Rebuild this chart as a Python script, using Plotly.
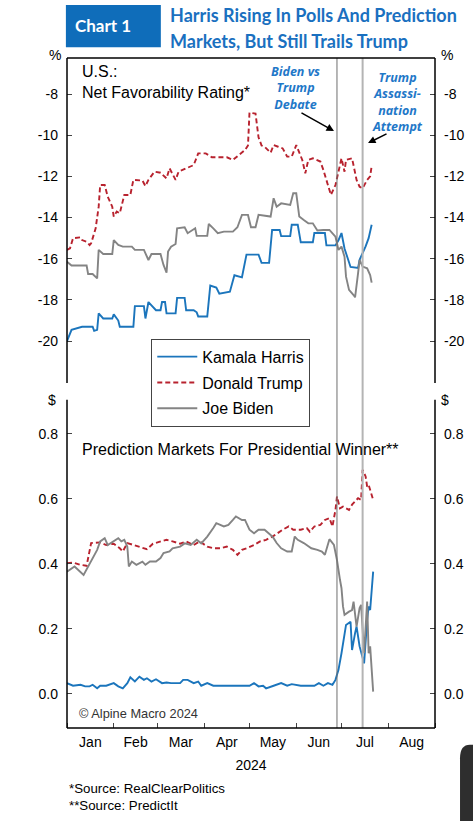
import plotly.graph_objects as go

# ---- data ----
series_names = ["Kamala Harris", "Donald Trump", "Joe Biden"]

# Net favorability rating, % (RealClearPolitics)
harris_fav_dates = [
    "2024-01-01", "2024-01-04", "2024-01-11", "2024-01-18", "2024-01-19", "2024-01-21",
    "2024-01-22", "2024-01-25", "2024-01-31", "2024-02-01", "2024-02-04", "2024-02-05",
    "2024-02-14", "2024-02-15", "2024-02-21", "2024-02-22", "2024-02-24", "2024-02-29",
    "2024-03-03", "2024-03-04", "2024-03-06", "2024-03-07", "2024-03-13", "2024-03-14",
    "2024-03-19", "2024-03-20", "2024-03-25", "2024-03-27", "2024-03-28", "2024-04-03",
    "2024-04-05", "2024-04-09", "2024-04-11", "2024-04-18", "2024-04-21", "2024-04-26",
    "2024-04-29", "2024-05-07", "2024-05-09", "2024-05-14", "2024-05-16", "2024-05-21",
    "2024-05-22", "2024-05-28", "2024-05-29", "2024-06-02", "2024-06-04", "2024-06-12",
    "2024-06-13", "2024-06-20", "2024-06-21", "2024-06-27", "2024-06-29", "2024-07-01",
    "2024-07-03", "2024-07-07", "2024-07-12", "2024-07-13", "2024-07-17", "2024-07-19",
    "2024-07-21",
]
harris_fav = [
    -20.0, -19.45, -19.3, -19.3, -19.5, -19.45,
    -18.65, -18.9, -18.9, -18.7, -19.0, -19.3,
    -19.3, -18.3, -18.3, -18.9, -18.1, -18.5,
    -18.5, -18.1, -18.1, -18.65, -18.65, -17.9,
    -17.9, -18.5, -18.5, -18.6, -18.8, -18.8,
    -17.3, -17.4, -17.7, -17.6, -16.8, -16.9,
    -15.8, -15.8, -16.2, -16.2, -14.6, -14.6,
    -14.9, -14.9, -14.35, -14.35, -15.2, -15.2,
    -14.75, -14.75, -15.35, -15.35, -15.1, -14.75,
    -15.5, -16.4, -16.45, -16.05, -15.4, -15.0,
    -14.35,
]

trump_fav_dates = [
    "2024-01-01", "2024-01-03", "2024-01-05", "2024-01-10", "2024-01-11", "2024-01-14",
    "2024-01-16", "2024-01-17", "2024-01-20", "2024-01-22", "2024-01-23", "2024-01-26",
    "2024-01-28", "2024-01-31", "2024-02-01", "2024-02-03", "2024-02-05", "2024-02-07",
    "2024-02-08", "2024-02-12", "2024-02-14", "2024-02-20", "2024-02-22", "2024-02-24",
    "2024-02-28", "2024-03-03", "2024-03-07", "2024-03-09", "2024-03-13", "2024-03-15",
    "2024-03-20", "2024-03-25", "2024-03-28", "2024-04-02", "2024-04-06", "2024-04-16",
    "2024-04-20", "2024-04-25", "2024-04-28", "2024-04-30", "2024-05-01", "2024-05-05",
    "2024-05-07", "2024-05-09", "2024-05-11", "2024-05-15", "2024-05-17", "2024-05-20",
    "2024-05-23", "2024-05-26", "2024-05-29", "2024-06-01", "2024-06-05", "2024-06-07",
    "2024-06-09", "2024-06-12", "2024-06-17", "2024-06-19", "2024-06-22", "2024-06-24",
    "2024-06-27", "2024-06-29", "2024-07-01", "2024-07-03", "2024-07-04", "2024-07-08",
    "2024-07-11", "2024-07-13", "2024-07-15", "2024-07-18", "2024-07-20", "2024-07-21",
]
trump_fav = [
    -15.57, -15.49, -15.0, -14.96, -15.09, -15.17,
    -15.33, -15.25, -14.52, -13.47, -12.42, -12.42,
    -12.98, -13.47, -13.95, -13.71, -13.79, -13.15,
    -12.9, -12.9, -12.17, -12.2, -12.47, -12.17,
    -11.77, -11.82, -12.1, -11.61, -12.17, -11.77,
    -11.61, -11.45, -10.88, -10.88, -11.07, -11.07,
    -11.2, -10.88, -10.72, -10.5, -8.9, -8.95,
    -10.1, -10.5, -10.56, -10.85, -10.48, -10.56,
    -10.64, -11.04, -11.04, -10.48, -11.2, -11.85,
    -11.2, -11.12, -11.28, -11.69, -12.5, -12.9,
    -12.42, -11.69, -11.12, -11.77, -11.2, -11.12,
    -12.17, -12.5, -12.58, -12.17, -12.0, -11.5,
]

biden_fav_dates = [
    "2024-01-01", "2024-01-04", "2024-01-14", "2024-01-15", "2024-01-18", "2024-01-21",
    "2024-01-22", "2024-01-25", "2024-01-31", "2024-02-01", "2024-02-04", "2024-02-07",
    "2024-02-13", "2024-02-15", "2024-02-21", "2024-02-24", "2024-02-26", "2024-03-03",
    "2024-03-05", "2024-03-07", "2024-03-08", "2024-03-10", "2024-03-13", "2024-03-14",
    "2024-03-19", "2024-03-21", "2024-03-26", "2024-03-27", "2024-04-03", "2024-04-04",
    "2024-04-07", "2024-04-10", "2024-04-14", "2024-04-20", "2024-04-23", "2024-04-26",
    "2024-04-30", "2024-05-02", "2024-05-05", "2024-05-07", "2024-05-15", "2024-05-17",
    "2024-05-19", "2024-05-22", "2024-05-28", "2024-05-30", "2024-06-01", "2024-06-03",
    "2024-06-06", "2024-06-09", "2024-06-12", "2024-06-15", "2024-06-19", "2024-06-23",
    "2024-06-27", "2024-06-29", "2024-07-01", "2024-07-03", "2024-07-04", "2024-07-06",
    "2024-07-09", "2024-07-10", "2024-07-12", "2024-07-13", "2024-07-15", "2024-07-18",
    "2024-07-20", "2024-07-21",
]
biden_fav = [
    -16.14, -16.33, -16.33, -16.74, -16.74, -16.95,
    -15.57, -15.77, -15.77, -15.09, -15.33, -15.41,
    -15.41, -15.57, -15.57, -16.06, -15.77, -15.77,
    -16.3, -16.67, -15.65, -15.41, -15.28, -14.52,
    -14.47, -14.76, -14.52, -14.89, -14.89, -14.31,
    -14.52, -14.76, -14.68, -14.68, -14.47, -13.87,
    -13.87, -14.47, -14.47, -13.87, -13.95, -13.06,
    -13.47, -13.31, -13.39, -12.82, -12.82, -13.95,
    -14.12, -14.28, -14.28, -14.63, -14.6, -14.6,
    -14.93, -15.57, -15.41, -15.9, -16.87, -17.51,
    -17.76, -17.87, -16.7, -16.06, -16.38, -16.46,
    -16.79, -17.16,
]

# Prediction market prices, $ (PredictIt)
harris_pm_dates = [
    "2024-01-01", "2024-01-05", "2024-01-10", "2024-01-13", "2024-01-16", "2024-01-18",
    "2024-01-21", "2024-01-23", "2024-01-27", "2024-02-01", "2024-02-04", "2024-02-07",
    "2024-02-10", "2024-02-12", "2024-02-15", "2024-02-18", "2024-02-21", "2024-02-23",
    "2024-02-26", "2024-02-29", "2024-03-04", "2024-03-07", "2024-03-10", "2024-03-16",
    "2024-03-18", "2024-03-21", "2024-03-25", "2024-03-28", "2024-03-30", "2024-04-03",
    "2024-04-07", "2024-05-01", "2024-05-04", "2024-05-07", "2024-05-10", "2024-05-12",
    "2024-05-17", "2024-05-22", "2024-05-26", "2024-05-29", "2024-06-04", "2024-06-13",
    "2024-06-16", "2024-06-19", "2024-06-22", "2024-06-25", "2024-06-27", "2024-06-29",
    "2024-07-01", "2024-07-03", "2024-07-04", "2024-07-07", "2024-07-08", "2024-07-10",
    "2024-07-11", "2024-07-13", "2024-07-16", "2024-07-18", "2024-07-19", "2024-07-20",
    "2024-07-22",
]
harris_pm = [
    0.033, 0.025, 0.028, 0.023, 0.023, 0.028,
    0.017, 0.025, 0.025, 0.033, 0.023, 0.017,
    0.033, 0.051, 0.038, 0.053, 0.043, 0.048,
    0.038, 0.045, 0.033, 0.035, 0.033, 0.033,
    0.043, 0.043, 0.033, 0.038, 0.025, 0.033,
    0.025, 0.025, 0.033, 0.023, 0.025, 0.017,
    0.025, 0.033, 0.025, 0.030, 0.025, 0.025,
    0.033, 0.025, 0.033, 0.028, 0.043, 0.074,
    0.125, 0.176, 0.212, 0.222, 0.135, 0.187,
    0.207, 0.146, 0.094, 0.228, 0.269, 0.258,
    0.376,
]

trump_pm_dates = [
    "2024-01-01", "2024-01-05", "2024-01-10", "2024-01-14", "2024-01-17", "2024-01-23",
    "2024-01-27", "2024-02-01", "2024-02-05", "2024-02-07", "2024-02-10", "2024-02-14",
    "2024-02-18", "2024-02-23", "2024-02-27", "2024-03-03", "2024-03-07", "2024-03-11",
    "2024-03-16", "2024-03-20", "2024-03-25", "2024-03-29", "2024-04-03", "2024-04-07",
    "2024-04-12", "2024-04-16", "2024-04-20", "2024-04-23", "2024-04-26", "2024-04-29",
    "2024-05-04", "2024-05-08", "2024-05-12", "2024-05-17", "2024-05-21", "2024-05-23",
    "2024-05-27", "2024-05-30", "2024-06-04", "2024-06-08", "2024-06-10", "2024-06-13",
    "2024-06-17", "2024-06-20", "2024-06-23", "2024-06-25", "2024-06-27", "2024-06-28",
    "2024-06-30", "2024-07-02", "2024-07-06", "2024-07-08", "2024-07-10", "2024-07-12",
    "2024-07-14", "2024-07-15", "2024-07-17", "2024-07-18", "2024-07-19", "2024-07-21",
    "2024-07-22",
]
trump_pm = [
    0.402, 0.404, 0.397, 0.394, 0.464, 0.466,
    0.458, 0.462, 0.448, 0.438, 0.464, 0.458,
    0.453, 0.445, 0.462, 0.469, 0.474, 0.469,
    0.462, 0.469, 0.458, 0.469, 0.453, 0.448,
    0.448, 0.453, 0.443, 0.428, 0.443, 0.448,
    0.458, 0.469, 0.474, 0.486, 0.499, 0.505,
    0.515, 0.505, 0.505, 0.510, 0.499, 0.515,
    0.520, 0.535, 0.541, 0.515, 0.566, 0.607,
    0.571, 0.576, 0.566, 0.582, 0.592, 0.602,
    0.597, 0.689, 0.669, 0.638, 0.643, 0.607,
    0.597,
]

biden_pm_dates = [
    "2024-01-01", "2024-01-06", "2024-01-12", "2024-01-16", "2024-01-21", "2024-01-23",
    "2024-01-26", "2024-01-28", "2024-02-01", "2024-02-04", "2024-02-06", "2024-02-08",
    "2024-02-10", "2024-02-11", "2024-02-13", "2024-02-16", "2024-02-20", "2024-02-22",
    "2024-02-25", "2024-02-29", "2024-03-03", "2024-03-05", "2024-03-09", "2024-03-11",
    "2024-03-16", "2024-03-19", "2024-03-23", "2024-03-27", "2024-03-30", "2024-04-03",
    "2024-04-07", "2024-04-09", "2024-04-14", "2024-04-17", "2024-04-20", "2024-04-22",
    "2024-04-26", "2024-04-28", "2024-05-01", "2024-05-04", "2024-05-07", "2024-05-11",
    "2024-05-15", "2024-05-17", "2024-05-19", "2024-05-22", "2024-05-26", "2024-05-29",
    "2024-05-31", "2024-06-02", "2024-06-06", "2024-06-09", "2024-06-11", "2024-06-15",
    "2024-06-18", "2024-06-20", "2024-06-23", "2024-06-26", "2024-06-28", "2024-06-30",
    "2024-07-01", "2024-07-02", "2024-07-03", "2024-07-06", "2024-07-08", "2024-07-09",
    "2024-07-11", "2024-07-13", "2024-07-14", "2024-07-16", "2024-07-18", "2024-07-19",
    "2024-07-20", "2024-07-22",
]
biden_pm = [
    0.376, 0.392, 0.366, 0.402, 0.443, 0.469,
    0.479, 0.458, 0.469, 0.479, 0.469, 0.474,
    0.453, 0.392, 0.407, 0.397, 0.407, 0.397,
    0.407, 0.407, 0.418, 0.433, 0.438, 0.448,
    0.453, 0.463, 0.458, 0.474, 0.463, 0.484,
    0.510, 0.525, 0.515, 0.520, 0.535, 0.546,
    0.535, 0.535, 0.505, 0.494, 0.505, 0.505,
    0.489, 0.479, 0.464, 0.448, 0.438, 0.438,
    0.484, 0.474, 0.464, 0.453, 0.448, 0.443,
    0.438, 0.428, 0.476, 0.458, 0.412, 0.351,
    0.325, 0.269, 0.243, 0.253, 0.258, 0.284,
    0.207, 0.264, 0.274, 0.125, 0.284, 0.125,
    0.146, 0.007,
]

event_dates = ["2024-06-28", "2024-07-15"]  # debate, assassination attempt
fav_ticks = [-20, -18, -16, -14, -12, -10, -8]
fav_ticktext = ["-20", "-18", "-16", "-14", "-12", "-10", "-8"]
pm_ticks = [0.0, 0.2, 0.4, 0.6, 0.8]
pm_ticktext = ["0.0", "0.2", "0.4", "0.6", "0.8"]

# ---- styling ----
colors = {"Kamala Harris": "#1b75bc", "Donald Trump": "#b8222e", "Joe Biden": "#848484"}
dashes = {"Kamala Harris": "solid", "Donald Trump": "5px,3px", "Joe Biden": "solid"}
body_font = "Liberation Sans, Arial, sans-serif"
title_font = "Lato, sans-serif"
note_blue = "#1f78c8"
top_dom = [0.515, 1]
bot_dom = [0, 0.49]

fav_data = {
    "Kamala Harris": (harris_fav_dates, harris_fav),
    "Donald Trump": (trump_fav_dates, trump_fav),
    "Joe Biden": (biden_fav_dates, biden_fav),
}
pm_data = {
    "Kamala Harris": (harris_pm_dates, harris_pm),
    "Donald Trump": (trump_pm_dates, trump_pm),
    "Joe Biden": (biden_pm_dates, biden_pm),
}

fig = go.Figure()

for name in series_names:
    xs, ys = fav_data[name]
    fig.add_trace(go.Scatter(
        x=xs, y=ys, name=name, mode="lines",
        line=dict(color=colors[name], width=1.9, dash=dashes[name]),
        xaxis="x2", yaxis="y", legendgroup=name,
    ))

for name in series_names:
    xs, ys = pm_data[name]
    fig.add_trace(go.Scatter(
        x=xs, y=ys, name=name, mode="lines",
        line=dict(color=colors[name], width=1.9, dash=dashes[name]),
        xaxis="x", yaxis="y2", legendgroup=name, showlegend=False,
    ))

# invisible copies so the right-hand label axes get drawn
fig.add_trace(go.Scatter(x=harris_fav_dates, y=harris_fav, xaxis="x2", yaxis="y3",
                         mode="lines", opacity=0, showlegend=False, hoverinfo="skip"))
fig.add_trace(go.Scatter(x=harris_pm_dates, y=harris_pm, xaxis="x", yaxis="y4",
                         mode="lines", opacity=0, showlegend=False, hoverinfo="skip"))

# event markers spanning both panels
for d, col, w in zip(event_dates, ["#6f6f6f", "#b4b4b4"], [1, 2]):
    fig.add_shape(type="line", xref="x", yref="paper", x0=d, x1=d, y0=0, y1=1,
                  line=dict(color=col, width=w))

# frame: side lines per panel, top and bottom edges
frame = dict(color="black", width=1.5)
for dom in (top_dom, bot_dom):
    for xp in (0, 1):
        fig.add_shape(type="line", xref="paper", yref="paper", x0=xp, x1=xp,
                      y0=dom[0], y1=dom[1], line=frame)
for yp in (0, 1):
    fig.add_shape(type="line", xref="paper", yref="paper", x0=0, x1=1, y0=yp, y1=yp, line=frame)

# header block
fig.add_shape(type="rect", xref="paper", yref="paper", x0=-0.003, x1=0.255,
              y0=1.016, y1=1.079, fillcolor="#0f6dba", line_width=0)
# dark overlay at bottom right of the screenshot
fig.add_shape(type="path", xref="paper", yref="paper",
              path="M 1.068,-0.17 L 1.068,-0.045 Q 1.068,-0.025 1.095,-0.025 L 1.2,-0.025 L 1.2,-0.17 Z",
              fillcolor="#2e2e2e", line_width=0)

ann = [
    dict(text="<b>Chart 1</b>", x=0.016, y=1.048, xanchor="left", yanchor="middle",
         font=dict(family=title_font, size=17, color="white")),
    dict(text="<b>Harris Rising In Polls And Prediction</b>", x=0.274, y=1.064,
         xanchor="left", yanchor="middle", font=dict(family=title_font, size=18, color="#1a70c0")),
    dict(text="<b>Markets, But Still Trails Trump</b>", x=0.274, y=1.026,
         xanchor="left", yanchor="middle", font=dict(family=title_font, size=18, color="#1a70c0")),
    dict(text="%", x=-0.033, y=1.004, xanchor="center", yanchor="middle",
         font=dict(family=body_font, size=14, color="black")),
    dict(text="%", x=1.033, y=1.004, xanchor="center", yanchor="middle",
         font=dict(family=body_font, size=14, color="black")),
    dict(text="$", x=-0.04, y=0.49, xanchor="center", yanchor="middle",
         font=dict(family=body_font, size=14, color="black")),
    dict(text="$", x=1.027, y=0.49, xanchor="center", yanchor="middle",
         font=dict(family=body_font, size=14, color="black")),
    dict(text="U.S.:<br>Net Favorability Rating*", x=0.035, y=0.964, xanchor="left",
         yanchor="middle", align="left", font=dict(family=body_font, size=16, color="black")),
    dict(text="Prediction Markets For Presidential Winner**", x=0.035, y=0.415, xanchor="left",
         yanchor="middle", font=dict(family=body_font, size=16, color="black")),
    dict(text="© Alpine Macro 2024", x=0.027, y=0.021, xanchor="left", yanchor="middle",
         font=dict(family=body_font, size=12.8, color="#333333")),
    dict(text="<b><i>Biden vs<br>Trump<br>Debate</i></b>", x=0.622, y=0.955,
         xanchor="center", yanchor="middle", align="center",
         font=dict(family="Open Sans, sans-serif", size=12.5, color=note_blue)),
    dict(text="<b><i>Trump<br>Assassi-<br>nation<br>Attempt</i></b>", x=0.899, y=0.934,
         xanchor="center", yanchor="middle", align="center",
         font=dict(family="Open Sans, sans-serif", size=12.5, color=note_blue)),
    dict(text="*Source: RealClearPolitics", x=0.0, y=-0.091, xanchor="left", yanchor="middle",
         font=dict(family=body_font, size=13.3, color="black")),
    dict(text="**Source: PredictIt", x=0.0, y=-0.116, xanchor="left", yanchor="middle",
         font=dict(family=body_font, size=13.3, color="black")),
    # arrows
    dict(text="", x=0.7255, y=0.891, ax=-34, ay=-19, showarrow=True, arrowhead=2,
         arrowwidth=1.5, arrowcolor="black", arrowsize=1),
    dict(text="", x=0.818, y=0.873, ax=20, ay=-10, showarrow=True, arrowhead=2,
         arrowwidth=1.5, arrowcolor="black", arrowsize=1),
]
for a in ann:
    a.setdefault("showarrow", False)
    a.setdefault("xref", "paper")
    a.setdefault("yref", "paper")
fig.update_layout(annotations=ann)

axis_common = dict(showgrid=False, zeroline=False, ticks="inside", ticklen=5, automargin=False,
                   showline=False, tickcolor="#444444",
                   tickfont=dict(family=body_font, size=14, color="black"))

fig.update_layout(
    width=473, height=821,
    margin=dict(l=67, r=38, t=58, b=93),
    paper_bgcolor="white", plot_bgcolor="white",
    font=dict(family=body_font, color="black"),
    showlegend=True,
    legend=dict(x=0.229, y=0.581, xanchor="left", yanchor="top",
                bgcolor="white", bordercolor="#444444", borderwidth=1,
                font=dict(family=body_font, size=16, color="black"),
                tracegroupgap=2, itemwidth=40),
    xaxis=dict(domain=[0, 1], anchor="y2", range=["2024-01-01", "2024-09-01"],
               tick0="2024-01-01", dtick="M1", tickformat="%b", ticklabelmode="period",
               ticklabelstandoff=4,
               title=dict(text="2024", font=dict(family=body_font, size=14), standoff=11),
               **axis_common),
    xaxis2=dict(matches="x", anchor="y", side="top", showline=False,
                showticklabels=False, ticks="", showgrid=False, zeroline=False,
                automargin=False),
    yaxis=dict(domain=top_dom, anchor="x2", range=[-22.03, -6.25],
               tickvals=fav_ticks, ticktext=fav_ticktext, ticklabelstandoff=8, **axis_common),
    yaxis3=dict(overlaying="y", anchor="x2", side="right", range=[-22.03, -6.25],
                tickvals=fav_ticks, ticktext=fav_ticktext, ticklabelstandoff=8, **axis_common),
    yaxis2=dict(domain=bot_dom, anchor="x", range=[-0.105, 0.905],
                tickvals=pm_ticks, ticktext=pm_ticktext, ticklabelstandoff=8, **axis_common),
    yaxis4=dict(overlaying="y2", anchor="x", side="right", range=[-0.105, 0.905],
                tickvals=pm_ticks, ticktext=pm_ticktext, ticklabelstandoff=8, **axis_common),
)

# the page body has a default 8px margin; drop it so the figure sits at the window origin
fig.write_html("out.html", config={"displayModeBar": False},
               post_script="document.body.style.margin='0px';")
